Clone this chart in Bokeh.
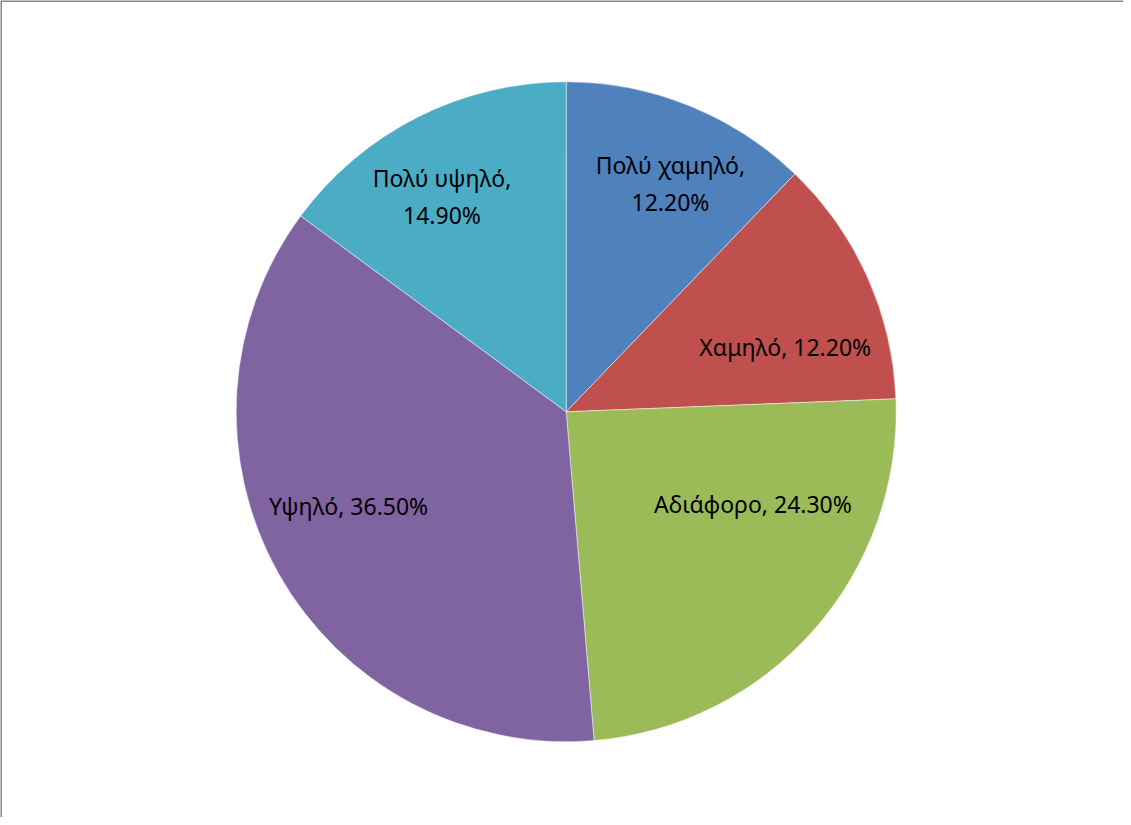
import math
from bokeh.plotting import figure
from bokeh.models import ColumnDataSource, Range1d, Span
from bokeh.core.properties import value
from bokeh.embed import file_html
from bokeh.resources import INLINE

# ---- data ----
categories = ["Πολύ χαμηλό", "Χαμηλό", "Αδιάφορο", "Υψηλό", "Πολύ υψηλό"]
percent = [12.2, 12.2, 24.3, 36.5, 14.9]
colors = ["#4F81BD", "#C0504D", "#9BBB59", "#8064A2", "#4BACC6"]
label_breaks = ["\n", " ", " ", " ", "\n"]

# ---- layout (not data) ----
W, H = 1123, 817
CX, CY = 565.7, 411.3      # pie centre inside the canvas, px from left/top
R = 330.0                  # pie radius, px
label_angle_shift = [2.6, 7.8, -15.2, 5.9, -3.2]   # degrees, clockwise
label_radius_frac = [0.761, 0.692, 0.631, 0.718, 0.753]

total = sum(percent)
starts, ends, lx, ly, texts = [], [], [], [], []
cum = 0.0
for i, v in enumerate(percent):
    a0 = cum / total
    cum += v
    a1 = cum / total
    # clockwise from 12 o'clock
    starts.append(math.pi / 2 - a1 * 2 * math.pi)
    ends.append(math.pi / 2 - a0 * 2 * math.pi)
    mid = (a0 + a1) / 2 * 360 + label_angle_shift[i]
    rad = math.radians(mid)
    r = R * label_radius_frac[i]
    lx.append(r * math.sin(rad))
    ly.append(r * math.cos(rad))
    texts.append(f"{categories[i]},{label_breaks[i]}{v:.2f}%")

src = ColumnDataSource(dict(start=starts, end=ends, color=colors,
                            lx=lx, ly=ly, text=texts))

p = figure(width=W, height=H, output_backend="svg", toolbar_location=None,
           x_range=Range1d(-CX, W - CX), y_range=Range1d(-(H - CY), CY),
           min_border=0, match_aspect=False)
p.axis.visible = False
p.grid.visible = False
p.outline_line_color = None
p.background_fill_color = "white"
p.border_fill_color = "white"

p.wedge(x=0, y=0, radius=R, start_angle="start", end_angle="end",
        direction="anticlock", fill_color="color", line_color="white",
        line_width=0.6, line_alpha=0.8, source=src)

p.text(x="lx", y="ly", text="text", source=src, text_align="center",
       text_baseline="middle", text_font=value("Noto Sans"),
       text_font_size="23px", text_color="black", text_line_height=1.15)

# chart-area border (left and top visible in the reference)
p.add_layout(Span(location=-CX, dimension="height", line_color="#888888", line_width=3))
p.add_layout(Span(location=CY, dimension="width", line_color="#888888", line_width=3))

open("out.html", "w").write(file_html(p, INLINE))
